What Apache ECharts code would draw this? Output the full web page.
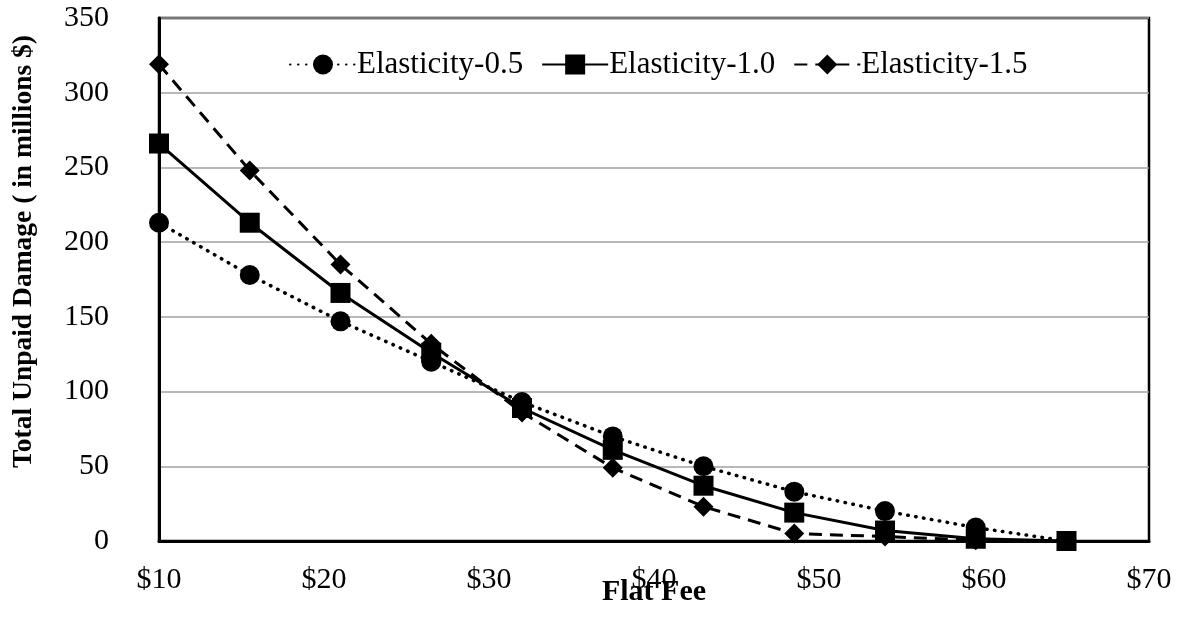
<!DOCTYPE html>
<html>
<head>
<meta charset="utf-8">
<script src="https://cdn.jsdelivr.net/npm/echarts@6/dist/echarts.min.js"></script>
<style>
html,body{margin:0;padding:0;background:#fff;}
#chart{width:1185px;height:618px;}
</style>
</head>
<body>
<div id="chart"></div>
<script>
// Flat fee ($) for each point
const flatFees = [10, 15.5, 21, 26.5, 32, 37.5, 43, 48.5, 54, 59.5, 65];
// Total unpaid damage (millions $)
const elasticity05 = [213, 178, 147, 120, 93, 70, 50, 33, 20, 9, 0];
const elasticity10 = [266, 213, 166, 126, 89, 61, 37, 19, 7, 1.5, 0];
const elasticity15 = [319, 248, 185, 132, 86, 49, 23, 5, 3, 0.5, 0];
const seriesNames = ['Elasticity-0.5', 'Elasticity-1.0', 'Elasticity-1.5'];
const xAxisTitle = 'Flat Fee';
const yAxisTitle = 'Total Unpaid Damage ( in millions $)';

const FONT = "'Liberation Serif', 'Times New Roman', serif";
const pair = arr => flatFees.map((x, i) => [x, arr[i]]);

const chart = echarts.init(document.getElementById('chart'), null, {renderer: 'canvas'});
chart.setOption({
  animation: false,
  backgroundColor: '#fff',
  textStyle: {fontFamily: FONT, color: '#000'},
  grid: {
    left: 159, right: 36, top: 18, bottom: 77,
    containLabel: false, outerBoundsMode: 'none',
    show: true, borderColor: '#000', borderWidth: 2.5, backgroundColor: 'transparent'
  },
  legend: {
    left: 284, top: 44,
    itemWidth: 66, itemHeight: 25, itemGap: 18,
    textStyle: {fontFamily: FONT, fontSize: 31, color: '#000', padding: [0, 0, 0, -4]},
    data: seriesNames
  },
  xAxis: {
    type: 'value', min: 10, max: 70, interval: 10,
    name: xAxisTitle, nameLocation: 'middle', nameGap: 36, nameMoveOverlap: false,
    nameTextStyle: {fontFamily: FONT, fontSize: 30, fontWeight: 'bold', color: '#000'},
    axisLine: {show: true, lineStyle: {color: '#000', width: 3}},
    axisTick: {show: false},
    splitLine: {show: false},
    axisLabel: {fontFamily: FONT, fontSize: 30, color: '#000', margin: 24,
      formatter: v => '$' + v}
  },
  yAxis: {
    type: 'value', min: 0, max: 350, interval: 50,
    name: yAxisTitle, nameLocation: 'middle', nameGap: 121, nameRotate: 90, nameMoveOverlap: false,
    nameTextStyle: {fontFamily: FONT, fontSize: 27.5, fontWeight: 'bold', color: '#000',
      padding: [0, 0, 0, 56]},
    axisLine: {show: true, lineStyle: {color: '#000', width: 3}},
    axisTick: {show: false},
    splitLine: {show: true, lineStyle: {color: '#a0a0a0', width: 1.5}},
    axisLabel: {fontFamily: FONT, fontSize: 30, color: '#000', margin: 50}
  },
  series: [
    {
      name: seriesNames[0], type: 'line', data: pair(elasticity05),
      symbol: 'circle', symbolSize: 20,
      itemStyle: {color: '#000'},
      lineStyle: {color: '#000', width: 3.5, type: [0.5, 7.5], cap: 'round'}
    },
    {
      name: seriesNames[1], type: 'line', data: pair(elasticity10),
      symbol: 'rect', symbolSize: 20,
      itemStyle: {color: '#000'},
      lineStyle: {color: '#000', width: 3, type: 'solid'}
    },
    {
      name: seriesNames[2], type: 'line', data: pair(elasticity15),
      symbol: 'diamond', symbolSize: [20, 20],
      itemStyle: {color: '#000'},
      lineStyle: {color: '#000', width: 3, type: [13, 8]}
    }
  ]
});
</script>
</body>
</html>
